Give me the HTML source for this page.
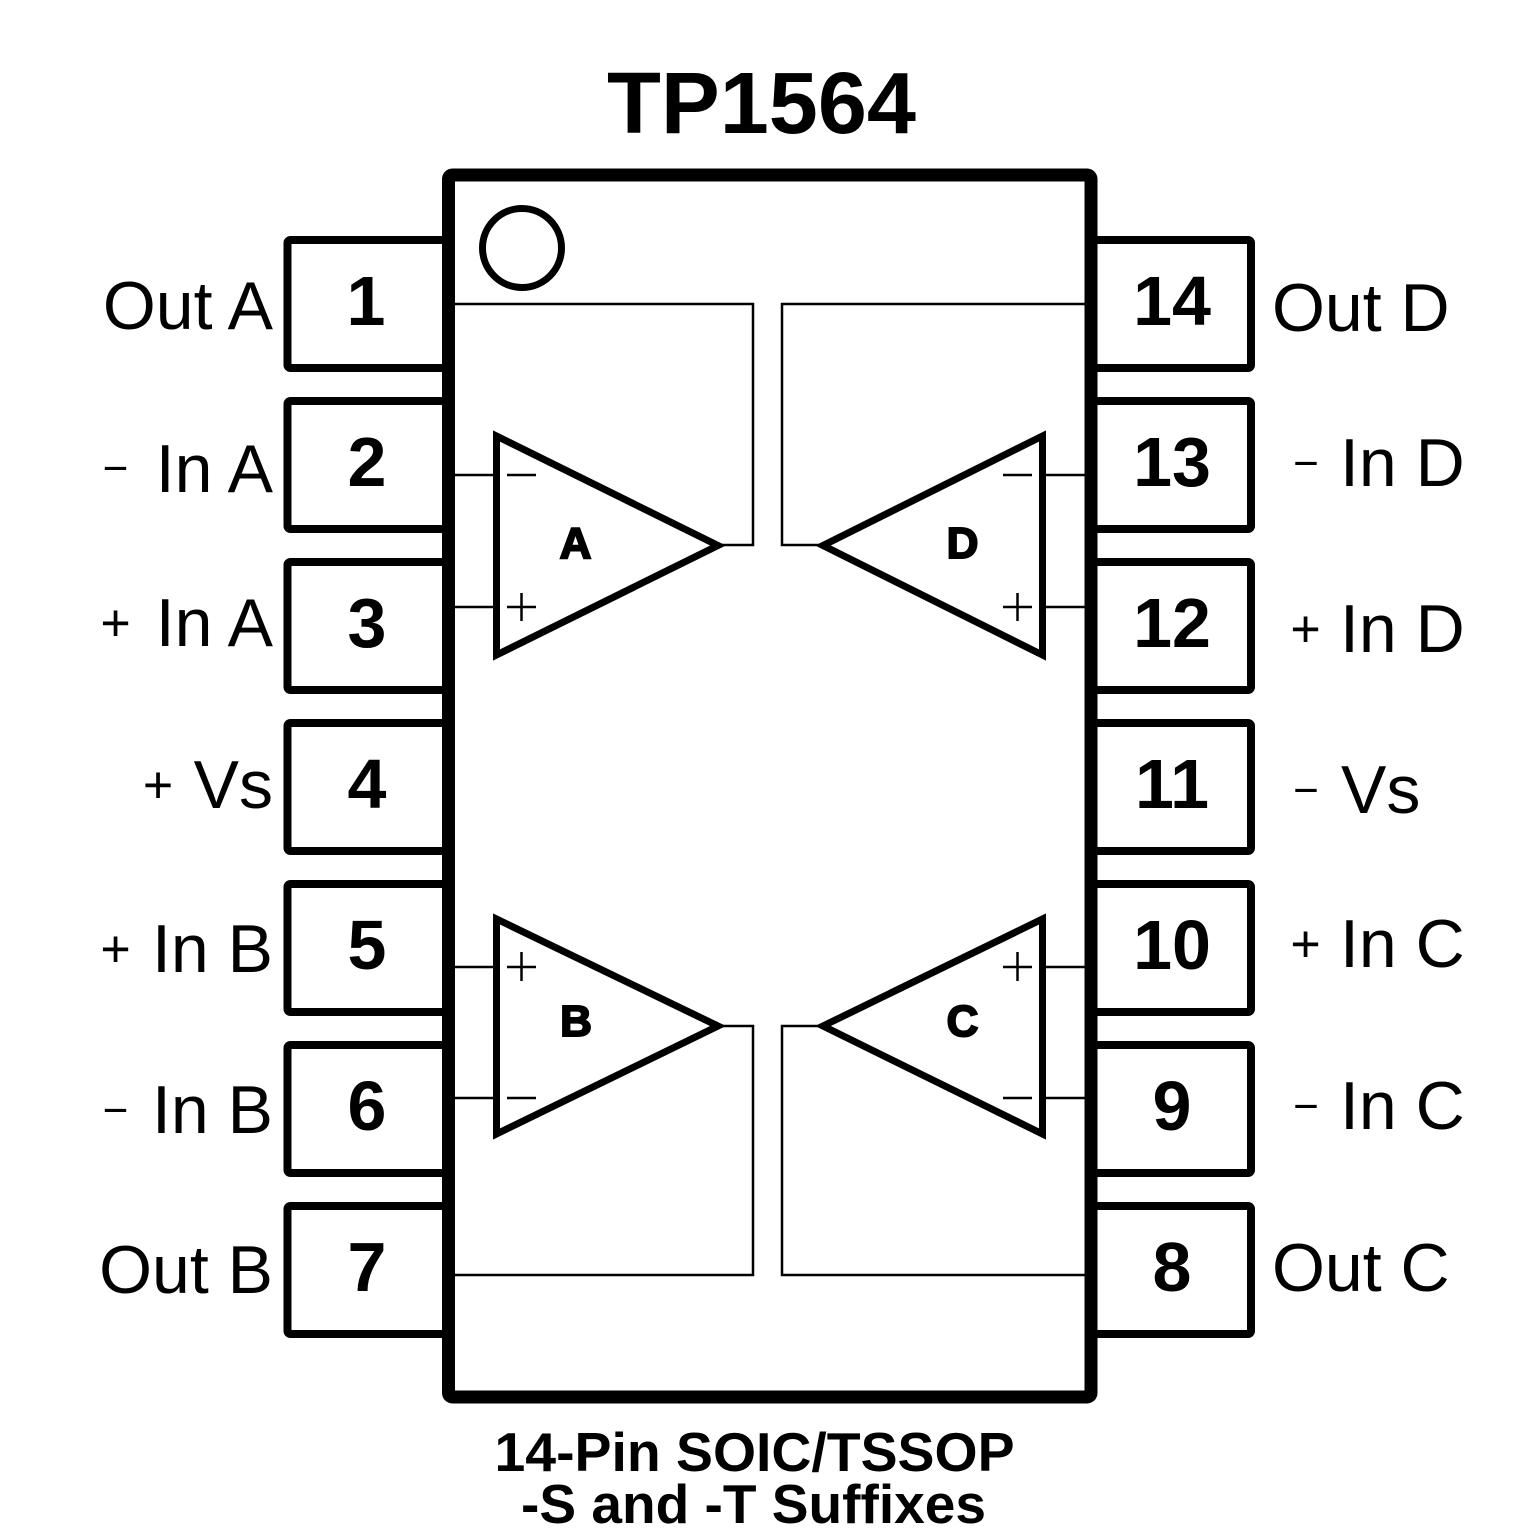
<!DOCTYPE html>
<html>
<head>
<meta charset="utf-8">
<style>
  html, body { margin: 0; padding: 0; background: #fff; }
  svg { display: block; }
  .lbl { font-family: "Liberation Sans", Arial, sans-serif; font-size: 68px; fill: #000; }
  .sgn { font-family: "Liberation Sans", Arial, sans-serif; fill: #000; }
  .pin { font-family: "Liberation Sans", Arial, sans-serif; font-weight: bold; font-size: 70px; fill: #000; text-anchor: middle; }
  .amp { font-family: "Liberation Sans", Arial, sans-serif; font-weight: bold; font-size: 44px; fill: #000; stroke: #000; stroke-width: 2; text-anchor: middle; }
  .ttl { font-family: "Liberation Sans", Arial, sans-serif; font-weight: bold; fill: #000; text-anchor: middle; }
</style>
</head>
<body>
<svg width="1535" height="1535" viewBox="0 0 1535 1535" xmlns="http://www.w3.org/2000/svg">
  <rect x="0" y="0" width="1535" height="1535" fill="#fff"/>

  <!-- Title -->
  <text class="ttl" x="761.5" y="133" font-size="87" textLength="309" lengthAdjust="spacingAndGlyphs">TP1564</text>

  <!-- Left pin boxes -->
  <g fill="#fff" stroke="#000" stroke-width="8">
    <rect x="287.5" y="240" width="162" height="128" rx="3"/>
    <rect x="287.5" y="401" width="162" height="128" rx="3"/>
    <rect x="287.5" y="562" width="162" height="128" rx="3"/>
    <rect x="287.5" y="723" width="162" height="128" rx="3"/>
    <rect x="287.5" y="884" width="162" height="128" rx="3"/>
    <rect x="287.5" y="1045" width="162" height="128" rx="3"/>
    <rect x="287.5" y="1206" width="162" height="128" rx="3"/>
  </g>
  <!-- Right pin boxes -->
  <g fill="#fff" stroke="#000" stroke-width="8">
    <rect x="1090" y="240" width="161" height="128" rx="3"/>
    <rect x="1090" y="401" width="161" height="128" rx="3"/>
    <rect x="1090" y="562" width="161" height="128" rx="3"/>
    <rect x="1090" y="723" width="161" height="128" rx="3"/>
    <rect x="1090" y="884" width="161" height="128" rx="3"/>
    <rect x="1090" y="1045" width="161" height="128" rx="3"/>
    <rect x="1090" y="1206" width="161" height="128" rx="3"/>
  </g>

  <!-- Body -->
  <rect x="448.5" y="175" width="642.5" height="1222" rx="4" fill="#fff" stroke="#000" stroke-width="13"/>

  <!-- Pin 1 marker -->
  <circle cx="522" cy="248" r="39.5" fill="none" stroke="#000" stroke-width="7"/>

  <!-- Wires -->
  <g fill="none" stroke="#000" stroke-width="2.5">
    <polyline points="455,304 753,304 753,545 718,545"/>
    <polyline points="1085,304 782,304 782,545 823,545"/>
    <polyline points="455,1275 753,1275 753,1026 718,1026"/>
    <polyline points="1085,1275 782,1275 782,1026 823,1026"/>
    <line x1="455" y1="475" x2="496" y2="475"/>
    <line x1="455" y1="607" x2="496" y2="607"/>
    <line x1="455" y1="967" x2="496" y2="967"/>
    <line x1="455" y1="1098" x2="496" y2="1098"/>
    <line x1="1042" y1="475" x2="1085" y2="475"/>
    <line x1="1042" y1="607" x2="1085" y2="607"/>
    <line x1="1042" y1="967" x2="1085" y2="967"/>
    <line x1="1042" y1="1098" x2="1085" y2="1098"/>
    <!-- amp input signs -->
    <line x1="507" y1="475" x2="536" y2="475"/>
    <line x1="507" y1="607" x2="536" y2="607"/>
    <line x1="521.5" y1="593" x2="521.5" y2="621"/>
    <line x1="507" y1="967" x2="536" y2="967"/>
    <line x1="521.5" y1="952" x2="521.5" y2="981"/>
    <line x1="507" y1="1098" x2="536" y2="1098"/>
    <line x1="1003" y1="475" x2="1032" y2="475"/>
    <line x1="1003" y1="607" x2="1032" y2="607"/>
    <line x1="1017.5" y1="593" x2="1017.5" y2="621"/>
    <line x1="1003" y1="967" x2="1032" y2="967"/>
    <line x1="1017.5" y1="952" x2="1017.5" y2="981"/>
    <line x1="1003" y1="1098" x2="1032" y2="1098"/>
  </g>

  <!-- Op-amp triangles -->
  <g fill="none" stroke="#000" stroke-width="7" stroke-linejoin="miter">
    <polygon points="496.5,436 496.5,655 718,545.5"/>
    <polygon points="496.5,919 496.5,1134 718,1026"/>
    <polygon points="1042.5,436 1042.5,655 823,545.5"/>
    <polygon points="1042.5,919 1042.5,1134 823,1026"/>
  </g>

  <!-- Amp labels -->
  <text class="amp" x="575.5" y="558">A</text>
  <text class="amp" x="576" y="1036">B</text>
  <text class="amp" x="962.5" y="558">D</text>
  <text class="amp" x="962.5" y="1036">C</text>

  <!-- Pin numbers -->
  <text class="pin" x="366" y="325">1</text>
  <text class="pin" x="367" y="486">2</text>
  <text class="pin" x="367" y="647">3</text>
  <text class="pin" x="367" y="808">4</text>
  <text class="pin" x="367" y="969">5</text>
  <text class="pin" x="367" y="1130">6</text>
  <text class="pin" x="367" y="1291">7</text>
  <text class="pin" x="1172" y="325">14</text>
  <text class="pin" x="1172" y="486">13</text>
  <text class="pin" x="1172" y="647">12</text>
  <text class="pin" x="1172" y="808">11</text>
  <text class="pin" x="1172" y="969">10</text>
  <text class="pin" x="1172" y="1130">9</text>
  <text class="pin" x="1172" y="1291">8</text>

  <!-- Left labels -->
  <text class="lbl" x="273" y="329" text-anchor="end">Out A</text>
  <text class="sgn" x="115.5" y="483" font-size="44" text-anchor="middle">−</text>
  <text class="lbl" x="273" y="492" text-anchor="end">In A</text>
  <text class="sgn" x="115.5" y="640.5" font-size="52" text-anchor="middle">+</text>
  <text class="lbl" x="273" y="646" text-anchor="end">In A</text>
  <text class="sgn" x="158" y="802.5" font-size="52" text-anchor="middle">+</text>
  <text class="lbl" x="273" y="808" text-anchor="end">Vs</text>
  <text class="sgn" x="115.5" y="966.5" font-size="52" text-anchor="middle">+</text>
  <text class="lbl" x="273" y="972" text-anchor="end">In B</text>
  <text class="sgn" x="115.5" y="1125" font-size="44" text-anchor="middle">−</text>
  <text class="lbl" x="273" y="1133" text-anchor="end">In B</text>
  <text class="lbl" x="273" y="1293" text-anchor="end">Out B</text>

  <!-- Right labels -->
  <text class="lbl" x="1272" y="331">Out D</text>
  <text class="sgn" x="1306" y="478" font-size="44" text-anchor="middle">−</text>
  <text class="lbl" x="1340" y="486">In D</text>
  <text class="sgn" x="1305.5" y="646.5" font-size="52" text-anchor="middle">+</text>
  <text class="lbl" x="1340" y="652">In D</text>
  <text class="sgn" x="1306" y="805" font-size="44" text-anchor="middle">−</text>
  <text class="lbl" x="1341" y="813">Vs</text>
  <text class="sgn" x="1305.5" y="961.5" font-size="52" text-anchor="middle">+</text>
  <text class="lbl" x="1340" y="967">In C</text>
  <text class="sgn" x="1306" y="1121" font-size="44" text-anchor="middle">−</text>
  <text class="lbl" x="1340" y="1129">In C</text>
  <text class="lbl" x="1272" y="1291">Out C</text>

  <!-- Bottom caption -->
  <text class="ttl" x="754.5" y="1471" font-size="55" textLength="520" lengthAdjust="spacingAndGlyphs">14-Pin SOIC/TSSOP</text>
  <text class="ttl" x="753.5" y="1523" font-size="55" textLength="465" lengthAdjust="spacingAndGlyphs">-S and -T Suffixes</text>
</svg>
</body>
</html>
